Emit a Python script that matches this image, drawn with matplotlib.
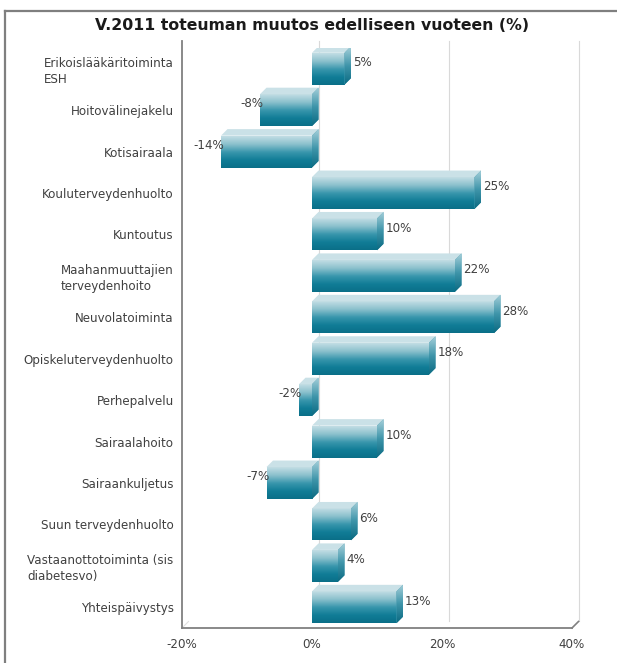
import numpy as np
import matplotlib
matplotlib.use("Agg")
import matplotlib.pyplot as plt
from matplotlib.colors import LinearSegmentedColormap
from matplotlib.patches import Polygon
from matplotlib.lines import Line2D
from matplotlib.transforms import offset_copy

categories = [
    "Erikoislääkäritoiminta\nESH",
    "Hoitovälinejakelu",
    "Kotisairaala",
    "Kouluterveydenhuolto",
    "Kuntoutus",
    "Maahanmuuttajien\nterveydenhoito",
    "Neuvolatoiminta",
    "Opiskeluterveydenhuolto",
    "Perhepalvelu",
    "Sairaalahoito",
    "Sairaankuljetus",
    "Suun terveydenhuolto",
    "Vastaanottotoiminta (sis\ndiabetesvo)",
    "Yhteispäivystys",
]
values = [5, -8, -14, 25, 10, 22, 28, 18, -2, 10, -7, 6, 4, 13]
xticks = [-20, 0, 20, 40]
xticklabels = ["-20%", "0%", "20%", "40%"]
title = "V.2011 toteuman muutos edelliseen vuoteen (%)"

# look of the fake 3d bars
bar_h = 0.77
dx = 1.0      # depth in % units
dy = 0.157    # depth in category units
text_col = "#404040"
fs = 8.6

front_cmap = LinearSegmentedColormap.from_list(
    "front", ["#c2dde4", "#8cc1cd", "#3a97ad", "#117d97", "#0a6f88"])
side_cmap = LinearSegmentedColormap.from_list(
    "side", ["#a6d0da", "#3f95aa", "#0a6a82"])
grad = np.linspace(0, 1, 128).reshape(-1, 1)

fig = plt.figure(figsize=(6.17, 6.63), dpi=100)
ax = fig.add_axes([182 / 617, 35 / 663, 390 / 617, 580 / 663])

ypos = np.arange(len(categories))
bars = ax.barh(ypos, values, height=bar_h, color="#3a97ad", zorder=3)

for bar, v, c in zip(bars, values, ypos):
    x0 = min(v, 0)
    x1 = max(v, 0)
    top = c - bar_h / 2
    bot = c + bar_h / 2
    # gradient front face
    im = ax.imshow(grad, cmap=front_cmap, aspect="auto", origin="lower",
                   extent=(x0, x1, top, bot), zorder=3)
    im.set_clip_path(bar)
    # top face
    ax.add_patch(Polygon([(x0, top), (x1, top), (x1 + dx, top - dy), (x0 + dx, top - dy)],
                         closed=True, facecolor="#cae1e7", edgecolor="none", zorder=4))
    # side face
    side = Polygon([(x1, top), (x1 + dx, top - dy), (x1 + dx, bot - dy), (x1, bot)],
                   closed=True, facecolor="#3f95aa", edgecolor="none", zorder=4)
    ax.add_patch(side)
    im2 = ax.imshow(grad, cmap=side_cmap, aspect="auto", origin="lower",
                    extent=(x1, x1 + dx, top - dy, bot), zorder=4)
    im2.set_clip_path(side)

    # value label
    if v >= 0:
        tr = offset_copy(ax.transData, fig=fig, x=2, y=0, units="dots")
        ax.text(v + dx, c - 0.15, f"{v}%", transform=tr, ha="left", va="center",
                fontsize=fs, color=text_col, zorder=5)
    else:
        tr = offset_copy(ax.transData, fig=fig, x=3, y=0, units="dots")
        ax.text(v, c - 0.15, f"{v}%", transform=tr, ha="right", va="center",
                fontsize=fs, color=text_col, zorder=6)

ax.set_xlim(-20, 40)
ax.set_ylim(len(categories) - 0.5, -0.5)

# back-wall gridlines
y_top = -0.5 - dy
y_bot = len(categories) - 0.5 - dy
for xt in xticks[1:]:
    ax.plot([xt + dx, xt + dx], [y_top, y_bot], color="#d9d9d9", lw=0.8,
            zorder=1, clip_on=False)
ax.plot([40, 40 + dx], [len(categories) - 0.5, y_bot], color="#808080", lw=1.2,
        zorder=2, clip_on=False)
ax.plot([-20, -20 + dx], [len(categories) - 0.5, y_bot], color="#e0e0e0", lw=0.8,
        zorder=1, clip_on=False)

ax.set_xticks(xticks)
ax.set_xticklabels(xticklabels, fontsize=fs, color=text_col)
ax.set_yticks(ypos)
ax.set_yticklabels(categories, fontsize=fs, color=text_col,
                   multialignment="left", linespacing=1.3)
ax.tick_params(axis="both", length=0)
ax.tick_params(axis="x", pad=7)
ax.tick_params(axis="y", pad=6)

for s in ["top", "right"]:
    ax.spines[s].set_visible(False)
for s in ["left", "bottom"]:
    ax.spines[s].set_color("#808080")
    ax.spines[s].set_linewidth(1.3)
ax.spines["left"].set_bounds(y_top, len(categories) - 0.5)

fig.text(312 / 617, 1 - 25 / 663, title, ha="center", va="center",
         fontsize=11.3, fontweight="bold", color="#1a1a1a")

# outer frame of the screenshot
fig.add_artist(Line2D([5 / 617, 5 / 617], [0, 1 - 11 / 663], color="#7f7f7f",
                      lw=1.6, transform=fig.transFigure))
fig.add_artist(Line2D([5 / 617, 1], [1 - 11 / 663, 1 - 11 / 663], color="#7f7f7f",
                      lw=1.6, transform=fig.transFigure))

fig.savefig("out.png", dpi=100)
